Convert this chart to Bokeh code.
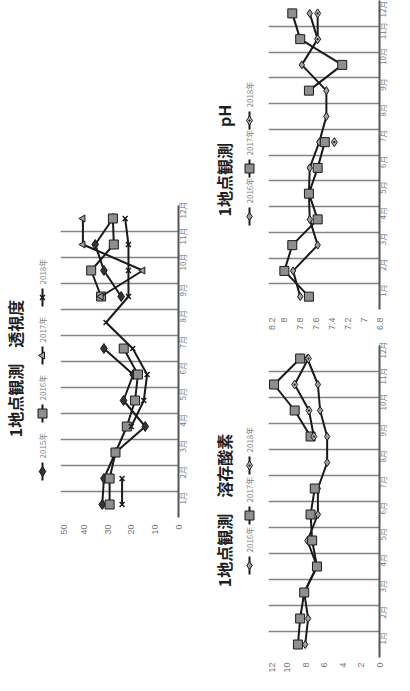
import math
import numpy as np
from bokeh.plotting import figure
from bokeh.layouts import row, column
from bokeh.models import Range1d, FixedTicker, ColumnDataSource
from bokeh.embed import file_html
from bokeh.resources import INLINE
from bokeh.core.properties import value

nan = float("nan")

# ---------------- data ----------------
months = ["1月", "2月", "3月", "4月", "5月", "6月", "7月", "8月", "9月", "10月", "11月", "12月"]
month_pos = list(range(1, 13))

# 透視度
t_title = "1地点観測　透視度"
t_years = ["2015年", "2016年", "2017年", "2018年"]
t_2015 = [32.3, 31.6, 26.7, 14.1, 23.3, 19.2, 31.6, nan, 24.3, 31.6, 35.3, 27.8]
t_2016 = [29.2, 29.2, 26.7, 21.9, 18.4, 17.2, 23.2, nan, 32.8, 37.0, 27.4, 27.8]
t_2017 = [nan, nan, nan, nan, nan, nan, nan, nan, 32.8, 15.1, 40.5, 40.5]
t_2018 = [23.9, 23.9, nan, 20.0, 14.7, 13.3, 19.4, 30.7, 21.2, 21.2, 21.2, 22.6]
t_ticks = [0, 10, 20, 30, 40, 50]
t_tick_labels = ["0", "10", "20", "30", "40", "50"]

# pH
ph_title = "1地点観測　pH"
ph_years = ["2016年", "2017年", "2018年"]
ph_2016 = [7.80, 7.89, 7.58, 7.68, 7.69, 7.68, 7.56, 7.47, 7.47, 7.78, 7.58, 7.68]
ph_2017 = [7.69, 8.00, 7.90, 7.58, 7.69, 7.58, 7.49, nan, 7.69, 7.27, 7.80, 7.90]
ph_2018 = [nan, nan, nan, nan, nan, nan, 7.37, nan, nan, nan, 7.58, 7.58]
ph_ticks = [6.8, 7.0, 7.2, 7.4, 7.6, 7.8, 8.0, 8.2]
ph_tick_labels = ["6.8", "7", "7.2", "7.4", "7.6", "7.8", "8", "8.2"]

# 溶存酸素
do_title = "1地点観測　溶存酸素"
do_years = ["2016年", "2017年", "2018年"]
do_2016 = [8.03, 7.72, 8.14, 6.76, 7.79, 6.66, 6.66, 5.66, 5.66, 6.42, 6.66, 7.80]
do_2017 = [8.82, 8.58, 8.14, 6.76, 7.28, 7.45, 7.00, nan, 7.45, 9.17, 11.40, 8.58]
do_2018 = [nan, nan, nan, nan, nan, nan, nan, nan, 7.10, 7.62, 9.17, 7.69]
do_ticks = [0, 2, 4, 6, 8, 10, 12]
do_tick_labels = ["0", "2", "4", "6", "8", "10", "12"]

# ---------------- styles ----------------
CJK = "Noto Sans CJK JP"
LINE = "#1a1a1a"
DIAMOND_DARK = dict(marker="diamond", size=10, fill_color="#333333", line_color=LINE, line_width=1)
DIAMOND_GRAY = dict(marker="diamond", size=8, fill_color="#a0a0a0", line_color=LINE, line_width=1)
SQUARE = dict(marker="square", size=9, fill_color="#8f8f8f", line_color=LINE, line_width=1)
TRIANGLE = dict(marker="triangle", size=7, angle=math.pi / 2, fill_color="#a0a0a0", line_color=LINE, line_width=1)
XMARK = dict(marker="x", size=7, line_color=LINE, line_width=1.5)
DIAMOND_DOT = dict(marker="diamond_dot", size=9, fill_color="#bbbbbb", line_color=LINE, line_width=1)

t_styles = [DIAMOND_DARK, SQUARE, TRIANGLE, XMARK]
w_styles = [DIAMOND_GRAY, SQUARE, DIAMOND_DOT]


def make_main(xmax, xmin, ticks, tick_labels, styles, series, frame_w, frame_h,
              top, bottom, right, val_standoff, month_standoff):
    p = figure(title=None, frame_width=frame_w, frame_height=frame_h,
               x_range=Range1d(xmax, xmin), y_range=Range1d(0.5, 12.5),
               min_border_top=top, min_border_bottom=bottom,
               min_border_left=0, min_border_right=right,
               y_axis_location="right",
               output_backend="svg", toolbar_location=None)
    p.outline_line_color = None
    # value axis (bottom of screen)
    p.xaxis.ticker = FixedTicker(ticks=ticks)
    p.xaxis.major_label_overrides = dict(zip(ticks, tick_labels))
    p.xaxis.major_label_orientation = math.pi / 2
    p.xaxis.axis_line_color = None
    p.xaxis.major_tick_line_color = None
    p.xaxis.minor_tick_line_color = None
    p.xaxis.major_tick_out = 0
    p.xaxis.major_tick_in = 0
    p.xaxis.minor_tick_out = 0
    p.xaxis.major_label_standoff = val_standoff
    p.xaxis.major_label_text_font = "Liberation Sans"
    p.xaxis.major_label_text_font_size = "9px"
    p.xaxis.major_label_text_color = "#777777"
    # month axis (right of screen)
    p.yaxis.ticker = FixedTicker(ticks=month_pos)
    p.yaxis.major_label_overrides = dict(zip(month_pos, months))
    p.yaxis.major_label_orientation = math.pi / 2
    p.yaxis.axis_line_color = "#555555"
    p.yaxis.axis_line_width = 2
    p.yaxis.major_tick_line_color = None
    p.yaxis.minor_tick_line_color = None
    p.yaxis.major_tick_out = 0
    p.yaxis.major_tick_in = 0
    p.yaxis.minor_tick_out = 0
    p.yaxis.major_label_standoff = month_standoff
    p.yaxis.major_label_text_font = CJK
    p.yaxis.major_label_text_font_size = "8px"
    p.yaxis.major_label_text_color = "#777777"
    # grid at month boundaries
    p.xgrid.visible = False
    p.ygrid.ticker = FixedTicker(ticks=[m - 0.5 for m in month_pos] + [month_pos[-1] + 0.5])
    p.ygrid.grid_line_color = "#858585"
    p.ygrid.grid_line_width = 1.5
    for st, vals in zip(styles, series):
        src = ColumnDataSource(dict(v=np.array(vals, dtype=float), m=np.array(month_pos, dtype=float)))
        p.line("v", "m", source=src, line_color=LINE, line_width=2)
        p.scatter("v", "m", source=src, **st)
    return p


def make_side(x_left, w, frame_top, frame_h, top, bottom, title, title_x, title_y,
              years, styles, leg_x, leg_bottom, pitch):
    # side panel in page-pixel coordinates (y grows downward)
    q = figure(title=None, frame_width=w, frame_height=frame_h,
               x_range=Range1d(x_left, x_left + w),
               y_range=Range1d(frame_top + frame_h, frame_top),
               min_border_top=top, min_border_bottom=bottom,
               min_border_left=0, min_border_right=0,
               x_axis_location=None, y_axis_location=None,
               output_backend="svg", toolbar_location=None)
    q.outline_line_color = None
    q.grid.visible = False
    q.text(x=[title_x], y=[title_y], text=[title], angle=math.pi / 2,
           text_align="center", text_baseline="middle",
           text_font=value(CJK), text_font_size="16px", text_font_style="bold",
           text_color="#1e1e1e")
    for k, (yr, st) in enumerate(zip(years, styles)):
        y0 = leg_bottom - k * pitch
        q.segment(x0=[leg_x], y0=[y0], x1=[leg_x], y1=[y0 - 18], line_color=LINE, line_width=2)
        q.scatter(x=[leg_x], y=[y0 - 9], **st)
        q.text(x=[leg_x], y=[y0 - 22], text=[yr], angle=math.pi / 2,
               text_align="left", text_baseline="middle",
               text_font=value(CJK), text_font_size="8px", text_color="#888888")
    return q


# left block: 透視度 (frame page x 68..186, y 213..525)
side1 = make_side(8, 60, 213, 312, 205, 158, t_title, 22, 376,
                  t_years, t_styles, 50, 488, 58)
main1 = make_main(50, 0, t_ticks, t_tick_labels, t_styles, [t_2015, t_2016, t_2017, t_2018],
                  118, 312, 205, 158, 17, 7, 4)

# right top: pH (frame page x 275..386, y 8..317)
side2 = make_side(203, 72, 8, 309, 0, 28, ph_title, 230, 168,
                  ph_years, w_styles, 256, 233, 48)
main2 = make_main(8.2, 6.8, ph_ticks, ph_tick_labels, w_styles, [ph_2016, ph_2017, ph_2018],
                  111, 309, 0, 28, 16, 8, 3)

# right bottom: 溶存酸素 (frame page x 275..386, y 353..665)
side3 = make_side(203, 72, 353, 312, 8, 18, do_title, 230, 518,
                  do_years, w_styles, 256, 582, 50)
main3 = make_main(12, 0, do_ticks, do_tick_labels, w_styles, [do_2016, do_2017, do_2018],
                  111, 312, 8, 18, 16, 5, 3)

layout = row(row(side1, main1), column(row(side2, main2), row(side3, main3)))

open("out.html", "w").write(file_html(layout, INLINE))
